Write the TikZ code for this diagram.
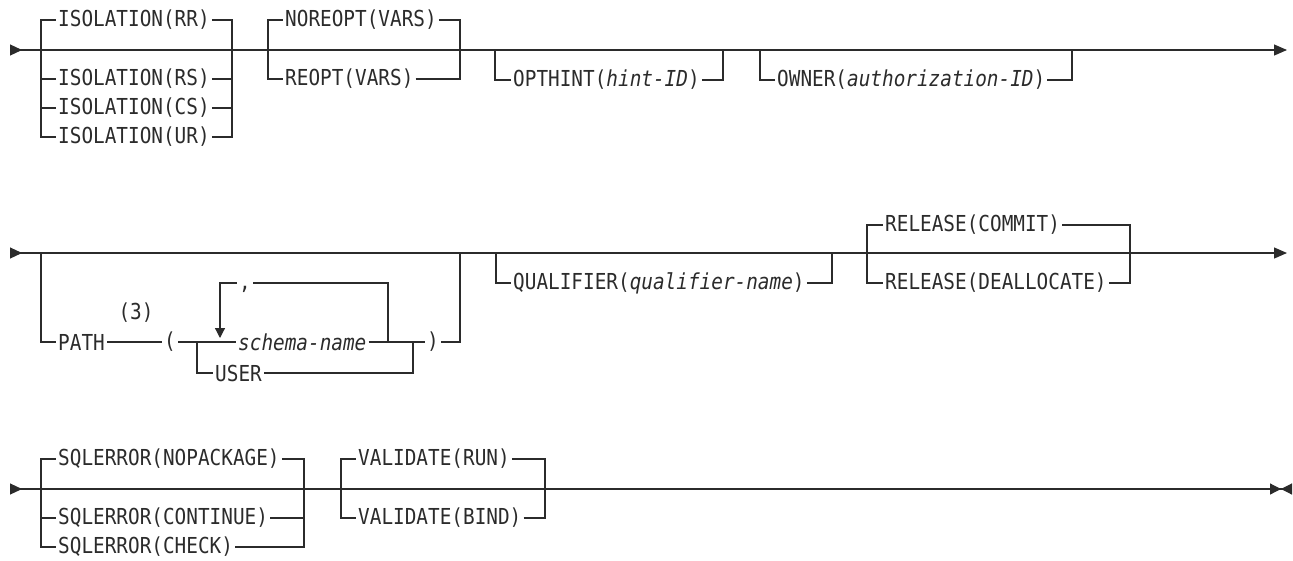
\documentclass[tikz,border=0pt]{standalone}
\usepackage{fontspec}
\newfontfamily\synfont[FakeStretch=0.88]{DejaVu Sans Mono}
\usepackage{xcolor}
\usetikzlibrary{arrows.meta,positioning,calc}
\definecolor{railgray}{HTML}{2B2B2B}

\tikzset{
  kw/.style={anchor=west, inner xsep=2pt, inner ysep=1pt, text=railgray,
    font=\synfont\fontsize{22}{26}\selectfont},
  rail/.style={draw=railgray, line width=1.2pt, line join=miter},
  mainline/.style={rail, {Triangle[reversed,length=12pt,width=11pt]}-{Triangle[length=13pt,width=11pt]}},
  lastline/.style={rail, {Triangle[reversed,length=12pt,width=11pt]}-{Triangle[length=11pt,width=11pt]Triangle[reversed,length=11pt,width=11pt]}},
}

\begin{document}
\begin{tikzpicture}[x=1pt, y=-1pt]
    \useasboundingbox (0,0) rectangle (1293,560);

    % Ligne 1
    \coordinate (r1s) at (10,50);
    \coordinate (r1e) at (1287,50);
    \draw[mainline] (r1s) -- (r1e);

    % ISOLATION
    \node[kw] (isoRR) at (56,20) {ISOLATION(RR)};
    \node[kw] (isoRS) at (56,79) {ISOLATION(RS)};
    \node[kw] (isoCS) at (56,108) {ISOLATION(CS)};
    \node[kw] (isoUR) at (56,137) {ISOLATION(UR)};
    \coordinate (isoL) at (41,50);
    \coordinate (isoR) at (232,50);
    \foreach \n in {isoRR,isoRS,isoCS,isoUR} {
        \draw[rail] (isoL) |- (\n.west);
        \draw[rail] (\n.east) -| (isoR);
    }

    % REOPT
    \node[kw] (noreopt) at (283,20) {NOREOPT(VARS)};
    \node[kw] (reopt) at (283,79) {REOPT(VARS)};
    \coordinate (reoL) at (268,50);
    \coordinate (reoR) at (460,50);
    \foreach \n in {noreopt,reopt} {
        \draw[rail] (reoL) |- (\n.west);
        \draw[rail] (\n.east) -| (reoR);
    }

    % OPTHINT, OWNER
    \node[kw] (opthint) at (511,80) {OPTHINT(\textit{hint-ID})};
    \coordinate (optL) at (495,50);
    \coordinate (optR) at (723,50);
    \draw[rail] (optL) |- (opthint.west);
    \draw[rail] (opthint.east) -| (optR);

    \node[kw] (owner) at (775,80) {OWNER(\textit{authorization-ID})};
    \coordinate (ownL) at (760,50);
    \coordinate (ownR) at (1072,50);
    \draw[rail] (ownL) |- (owner.west);
    \draw[rail] (owner.east) -| (ownR);

    % Ligne 2
    \coordinate (r2s) at (10,253);
    \coordinate (r2e) at (1287,253);
    \draw[mainline] (r2s) -- (r2e);

    % PATH
    \node[kw] (path) at (56,342) {PATH};
    \node[kw, anchor=center] (note3) at (136,313) {(3)};
    \node[kw, anchor=center] (lparen) at (170,342) {(};
    \node[kw, anchor=center] (rparen) at (433,342) {)};
    \node[kw] (schema) at (236,342) {\textit{schema-name}};
    \node[kw] (user) at (213,373) {USER};
    \coordinate (pathL) at (41,253);
    \coordinate (pathR) at (460,253);
    \coordinate (inL) at (197,342);
    \coordinate (inR) at (413,342);
    \draw[rail] (pathL) |- (path.west);
    \draw[rail] (path.east) -- (lparen.west);
    \draw[rail] (lparen.east) -- (schema.west);
    \draw[rail] (inL) |- (user.west);
    \draw[rail] (schema.east) -- (rparen.west);
    \draw[rail] (user.east) -| (inR);
    \draw[rail] (rparen.east) -| (pathR);

    % boucle de répétition
    \node[kw, anchor=center] (comma) at (245,289) {,};
    \coordinate (loopTL) at (220,283);
    \coordinate (loopR) at (388,342);
    \coordinate (loopTip) at (220,338);
    \draw[rail] (loopR) |- (comma.east |- loopTL);
    \draw[rail, -{Triangle[length=10pt,width=10pt]}] (loopTL -| comma.west) -- (loopTL) -- (loopTip);

    % QUALIFIER
    \node[kw] (qual) at (511,283) {QUALIFIER(\textit{qualifier-name})};
    \coordinate (qualL) at (496,253);
    \coordinate (qualR) at (832,253);
    \draw[rail] (qualL) |- (qual.west);
    \draw[rail] (qual.east) -| (qualR);

    % RELEASE
    \node[kw] (relC) at (883,225) {RELEASE(COMMIT)};
    \node[kw] (relD) at (883,283) {RELEASE(DEALLOCATE)};
    \coordinate (relL) at (867,253);
    \coordinate (relR) at (1130,253);
    \foreach \n in {relC,relD} {
        \draw[rail] (relL) |- (\n.west);
        \draw[rail] (\n.east) -| (relR);
    }

    % Ligne 3
    \coordinate (r3s) at (10,489);
    \coordinate (r3e) at (1292,489);
    \draw[lastline] (r3s) -- (r3e);

    % SQLERROR
    \node[kw] (sqlNP) at (56,459) {SQLERROR(NOPACKAGE)};
    \node[kw] (sqlCO) at (56,518) {SQLERROR(CONTINUE)};
    \node[kw] (sqlCH) at (56,547) {SQLERROR(CHECK)};
    \coordinate (sqlL) at (41,489);
    \coordinate (sqlR) at (304,489);
    \foreach \n in {sqlNP,sqlCO,sqlCH} {
        \draw[rail] (sqlL) |- (\n.west);
        \draw[rail] (\n.east) -| (sqlR);
    }

    % VALIDATE
    \node[kw] (valRun) at (356,459) {VALIDATE(RUN)};
    \node[kw] (valBind) at (356,518) {VALIDATE(BIND)};
    \coordinate (valL) at (341,489);
    \coordinate (valR) at (545,489);
    \foreach \n in {valRun,valBind} {
        \draw[rail] (valL) |- (\n.west);
        \draw[rail] (\n.east) -| (valR);
    }
\end{tikzpicture}
\end{document}
